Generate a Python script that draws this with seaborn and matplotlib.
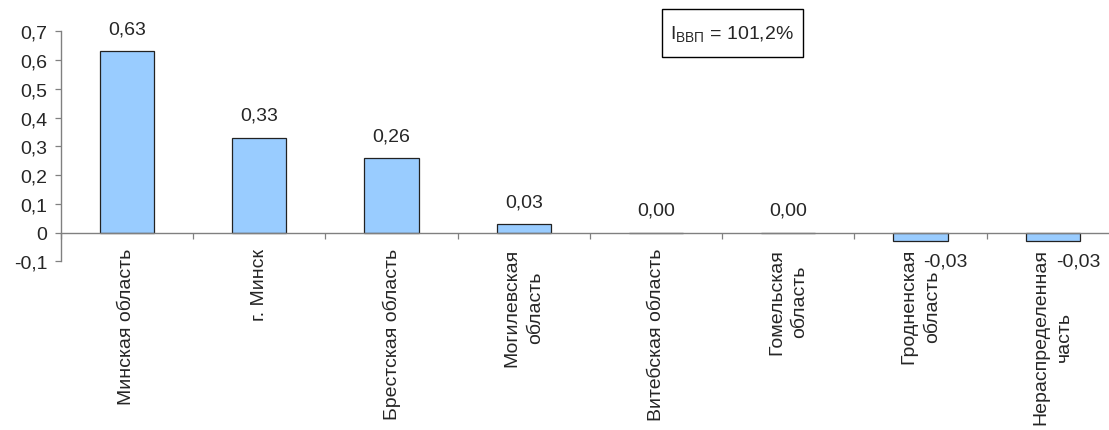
import numpy as np
import pandas as pd
import matplotlib
matplotlib.use('Agg')
import matplotlib.pyplot as plt
from matplotlib.ticker import FuncFormatter, FixedLocator
from matplotlib.patches import Rectangle
import seaborn as sns

regions = ['Минская область', 'г. Минск', 'Брестская область', 'Могилевская\nобласть',
           'Витебская область', 'Гомельская\nобласть', 'Гродненская\nобласть',
           'Нераспределенная\nчасть']
contrib = [0.63, 0.33, 0.26, 0.03, 0.00, 0.00, -0.03, -0.03]
gdp_index = '101,2%'

sns.set_style('white')
plt.rcParams['font.family'] = ['Liberation Sans', 'DejaVu Sans']
plt.rcParams['mathtext.fontset'] = 'custom'
plt.rcParams['mathtext.rm'] = 'Liberation Sans'
plt.rcParams['mathtext.it'] = 'Liberation Sans'

FS = 14


def comma(v, nd):
    s = f"{v:.{nd}f}".replace('.', ',')
    return '0,00' if s == '-0,00' else s


df = pd.DataFrame({'region': regions, 'value': contrib})

fig = plt.figure(figsize=(11.09, 4.31), dpi=100)
ax = fig.add_axes([60.8 / 1109, 1 - 262.3 / 431, (1119 - 60.8) / 1109, 230 / 431])

sns.barplot(data=df, x='region', y='value', color='#99CCFF', edgecolor='#222222',
            linewidth=0.9, width=0.41, saturation=1, ax=ax)

ax.set_ylim(-0.1, 0.7)
ax.set_xlim(-0.5, len(regions) - 0.5)
ax.set_yticks(np.arange(-0.1, 0.71, 0.1))
ax.yaxis.set_major_formatter(FuncFormatter(lambda v, p: '0' if abs(v) < 1e-9 else comma(v, 1)))
ax.tick_params(axis='y', direction='out', length=4.5, width=0.9, color='#808080',
               labelsize=FS, pad=5, left=True)

ax.spines['top'].set_visible(False)
ax.spines['right'].set_visible(False)
ax.spines['bottom'].set_position(('data', 0))
for s in ['left', 'bottom']:
    ax.spines[s].set_color('#808080')
    ax.spines[s].set_linewidth(1.0)

ax.set_xticks(range(len(regions)))
ax.set_xticklabels(regions, rotation=90, va='top', ha='center', multialignment='center',
                   linespacing=1.5)
ax.tick_params(axis='x', which='major', length=0, labelsize=FS, pad=11)
ax.xaxis.set_minor_locator(FixedLocator(np.arange(-0.5, len(regions), 1.0)))
ax.tick_params(axis='x', which='minor', direction='out', length=4.5, width=0.9,
               color='#808080', bottom=True)
ax.set_xlabel('')
ax.set_ylabel('')
ax.grid(False)

for i, v in enumerate(contrib):
    if v >= 0:
        ax.annotate(comma(v, 2), (i, v), xytext=(0, 16), textcoords='offset points',
                    ha='center', va='center', fontsize=FS)
    else:
        ax.annotate(comma(v, 2), (i + 0.19, v), xytext=(0, -14), textcoords='offset points',
                    ha='center', va='center', fontsize=FS)

fig.patches.append(Rectangle((662 / 1109, 1 - 58 / 431), 141 / 1109, 48 / 431,
                             transform=fig.transFigure, fill=False, edgecolor='black',
                             linewidth=1.0))
fig.text(731.5 / 1109, 1 - 39 / 431, r'I$_{\mathrm{ВВП}}$ = ' + gdp_index,
         ha='center', va='baseline', fontsize=FS)

plt.savefig('out.png', dpi=100, facecolor='w')
